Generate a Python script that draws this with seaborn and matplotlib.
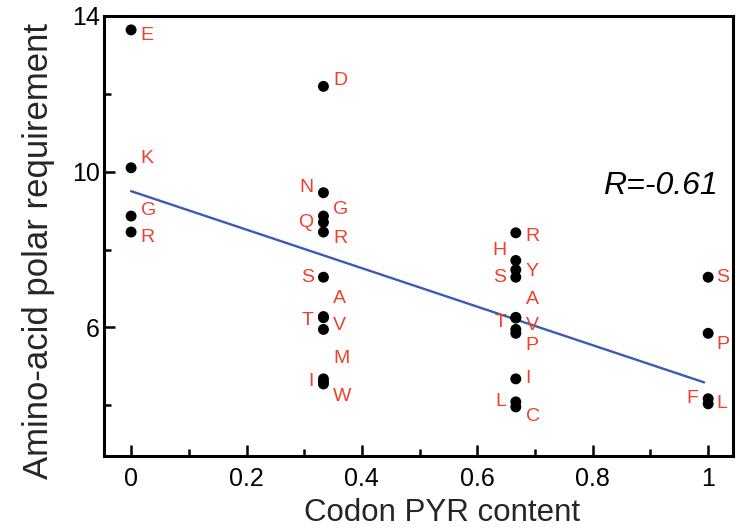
import numpy as np
import pandas as pd
import matplotlib
matplotlib.use("Agg")
import matplotlib.pyplot as plt
import seaborn as sns

# ---- data ----
amino = ["E", "K", "G", "R",
         "D", "N", "G", "Q", "R", "S", "A", "T", "V", "M", "I", "W",
         "R", "H", "Y", "S", "A", "T", "V", "P", "I", "L", "C",
         "S", "P", "F", "L"]
pyr_content = [0, 0, 0, 0,
               1/3, 1/3, 1/3, 1/3, 1/3, 1/3, 1/3, 1/3, 1/3, 1/3, 1/3, 1/3,
               2/3, 2/3, 2/3, 2/3, 2/3, 2/3, 2/3, 2/3, 2/3, 2/3, 2/3,
               1, 1, 1, 1]
polar_req = [13.64, 10.10, 8.86, 8.45,
             12.19, 9.46, 8.86, 8.70, 8.45, 7.29, 6.28, 6.25, 5.95, 4.68, 4.60, 4.55,
             8.43, 7.72, 7.48, 7.29, 6.26, 6.24, 5.95, 5.85, 4.68, 4.09, 3.96,
             7.29, 5.85, 4.17, 4.04]
# fitted line as drawn in the reference
fit_x = [0, 0.993]
fit_y = [9.50, 4.59]
r_text = "R=-0.61"
x_ticks = [0, 0.2, 0.4, 0.6, 0.8, 1]
x_ticklabels = ["0", "0.2", "0.4", "0.6", "0.8", "1"]
y_ticks = [6, 10, 14]
y_ticklabels = ["6", "10", "14"]

# label placement (offset in points)
label_offsets = [(7, -4), (7, 7), (7, 4), (7, -4),
                 (7, 4), (-7, 4), (7, 5), (-7, 0), (7, -5), (-7, 0), (7, 13), (-7, -2), (7, 3), (7, 15), (-7, 0), (7, -9),
                 (7, -3), (-7, 7), (7, -1), (-7, 0), (7, 13), (-7, -3), (7, 3), (7, -9), (7, 0), (-7, 0), (7, -7),
                 (6, 0), (6, -8), (-7, 0), (6, 0)]

df = pd.DataFrame({"x": pyr_content, "y": polar_req, "aa": amino})
fit_df = pd.DataFrame({"x": fit_x, "y": fit_y})

sns.set_style("ticks")
plt.rcParams["font.family"] = ["Liberation Sans", "DejaVu Sans"]

fig = plt.figure(figsize=(7.4, 5.29), dpi=100)
ax = fig.add_axes([0.1405, 0.138, 0.85, 0.832])

sns.lineplot(data=fit_df, x="x", y="y", ax=ax, color="#3a5bb0", lw=1.7)
sns.scatterplot(data=df, x="x", y="y", ax=ax, color="black", s=62,
                edgecolor="none", zorder=3)

red = "#f0402a"
for xi, yi, lab, (dx, dy) in zip(pyr_content, polar_req, amino, label_offsets):
    ax.annotate(lab, (xi, yi), xytext=(dx, dy), textcoords="offset points",
                ha="left" if dx > 0 else "right", va="center",
                color=red, fontsize=14)

ax.text(0.975, 0.614, r_text, transform=ax.transAxes, ha="right", va="center",
        fontsize=23, style="italic", color="black")

ax.set_xlim(-0.047, 1.043)
ax.set_ylim(2.7, 14)
ax.set_xticks(x_ticks)
ax.set_xticklabels(x_ticklabels)
ax.set_yticks(y_ticks)
ax.set_yticklabels(y_ticklabels)
ax.set_xticks([0.1, 0.3, 0.5, 0.7, 0.9], minor=True)
ax.set_yticks([4, 8, 12], minor=True)
ax.tick_params(which="major", direction="in", length=8, width=1.8, labelsize=18,
               color="black", labelcolor="black")
ax.tick_params(which="minor", direction="in", length=5, width=1.8, color="black")
ax.tick_params(axis="x", which="major", pad=8)
ax.tick_params(axis="y", which="major", pad=3)
for sp in ax.spines.values():
    sp.set_visible(True)
    sp.set_linewidth(2.2)
    sp.set_color("black")

ax.set_xlabel("Codon PYR content", fontsize=22.5)
ax.xaxis.set_label_coords(0.537, -0.095)
ax.set_ylabel("Amino-acid polar requirement", fontsize=25)
ax.yaxis.set_label_coords(-0.078, 0.466)

fig.savefig("out.png", dpi=100)
